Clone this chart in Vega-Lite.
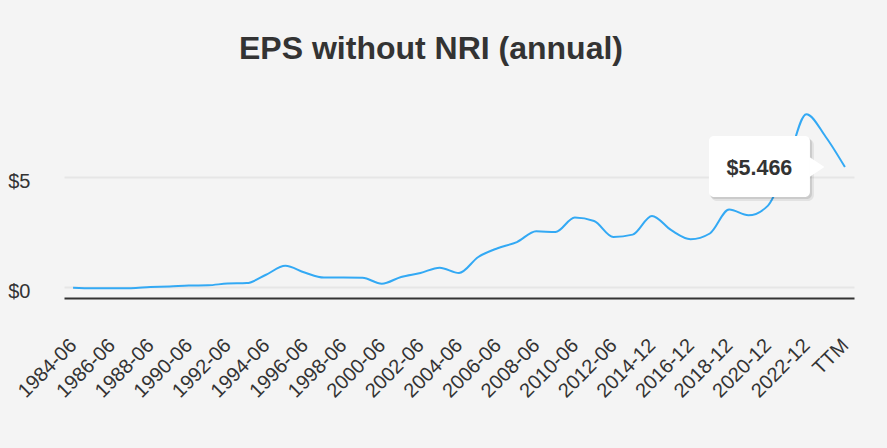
{
  "$schema": "https://vega.github.io/schema/vega-lite/v6.json",
  "width": 790,
  "height": 198,
  "autosize": {"type": "none"},
  "padding": {"left": 64, "top": 100, "right": 33, "bottom": 150},
  "background": "#f4f4f4",
  "config": {"view": {"stroke": null}, "font": "Liberation Sans"},
  "title": {"text": "EPS without NRI (annual)", "fontSize": 32, "fontWeight": "bold", "color": "#333333", "font": "Liberation Sans", "anchor": "middle", "dx": -28, "offset": 34},
  "data": {"values": [
    {"label": "1984-06", "value": -0.03},
    {"label": "1985-06", "value": -0.06},
    {"label": "1986-06", "value": -0.05},
    {"label": "1987-06", "value": -0.05},
    {"label": "1988-06", "value": 0.0},
    {"label": "1989-06", "value": 0.02},
    {"label": "1990-06", "value": 0.07},
    {"label": "1991-06", "value": 0.08},
    {"label": "1992-06", "value": 0.16},
    {"label": "1993-06", "value": 0.18},
    {"label": "1994-06", "value": 0.56},
    {"label": "1995-06", "value": 0.97},
    {"label": "1996-06", "value": 0.66},
    {"label": "1997-06", "value": 0.43},
    {"label": "1998-06", "value": 0.43},
    {"label": "1999-06", "value": 0.42},
    {"label": "2000-06", "value": 0.15},
    {"label": "2001-06", "value": 0.46},
    {"label": "2002-06", "value": 0.64},
    {"label": "2003-06", "value": 0.88},
    {"label": "2004-06", "value": 0.64},
    {"label": "2005-06", "value": 1.37},
    {"label": "2006-06", "value": 1.77},
    {"label": "2007-06", "value": 2.05},
    {"label": "2008-06", "value": 2.54},
    {"label": "2009-06", "value": 2.51},
    {"label": "2010-06", "value": 3.17},
    {"label": "2011-06", "value": 3.01},
    {"label": "2012-06", "value": 2.28},
    {"label": "2013-12", "value": 2.39},
    {"label": "2014-12", "value": 3.24},
    {"label": "2015-12", "value": 2.59},
    {"label": "2016-12", "value": 2.18},
    {"label": "2017-12", "value": 2.44},
    {"label": "2018-12", "value": 3.53},
    {"label": "2019-12", "value": 3.27},
    {"label": "2020-12", "value": 3.7},
    {"label": "2021-12", "value": 5.6},
    {"label": "2022-12", "value": 7.88},
    {"label": "2023-12", "value": 6.85},
    {"label": "TTM", "value": 5.466}
  ]},
  "encoding": {
    "x": {
      "field": "label", "type": "ordinal", "sort": null,
      "scale": {"type": "point", "padding": 0.47},
      "axis": {
        "values": ["1984-06", "1986-06", "1988-06", "1990-06", "1992-06", "1994-06", "1996-06", "1998-06", "2000-06", "2002-06", "2004-06", "2006-06", "2008-06", "2010-06", "2012-06", "2014-12", "2016-12", "2018-12", "2020-12", "2022-12", "TTM"],
        "labelAngle": -45, "labelAlign": "right", "labelBaseline": "middle",
        "labelPadding": 44, "labelFontSize": 20, "labelColor": "#333333", "labelFont": "Liberation Sans",
        "ticks": false, "grid": false, "domainColor": "#333333", "domainWidth": 2,
        "title": null, "labelOverlap": false, "labelBound": false
      }
    },
    "y": {
      "field": "value", "type": "quantitative",
      "scale": {"domain": [-0.5, 8.525], "nice": false, "zero": false},
      "axis": {
        "values": [0, 5], "labelExpr": "'$' + datum.value",
        "grid": true, "gridColor": "#e6e6e6", "gridWidth": 2,
        "domain": false, "ticks": false,
        "labelFontSize": 20, "labelColor": "#333333", "labelFont": "Liberation Sans",
        "labelPadding": 34, "labelOffset": 4, "title": null
      }
    }
  },
  "layer": [
    {"mark": {"type": "line", "interpolate": "monotone", "color": "#33a9f4", "strokeWidth": 2}},
    {"transform": [{"filter": "datum.label === 'TTM'"}],
     "mark": {"type": "rect", "color": "#000000", "opacity": 0.07, "cornerRadius": 6, "xOffset": -134, "x2Offset": -31, "yOffset": -28, "y2Offset": 34},
     "encoding": {"x2": {"field": "label"}, "y2": {"field": "value"}}},
    {"transform": [{"filter": "datum.label === 'TTM'"}],
     "mark": {"type": "rect", "color": "#000000", "opacity": 0.1, "cornerRadius": 5, "xOffset": -135, "x2Offset": -33, "yOffset": -29, "y2Offset": 32},
     "encoding": {"x2": {"field": "label"}, "y2": {"field": "value"}}},
    {"transform": [{"filter": "datum.label === 'TTM'"}],
     "mark": {"type": "rect", "color": "#ffffff", "opacity": 1, "cornerRadius": 5, "xOffset": -136, "x2Offset": -35, "yOffset": -31, "y2Offset": 30},
     "encoding": {"x2": {"field": "label"}, "y2": {"field": "value"}}},
    {"transform": [{"filter": "datum.label === 'TTM'"}],
     "mark": {"type": "point", "shape": "M-0.75,-1L0.75,0L-0.75,1Z", "filled": true, "color": "#ffffff", "opacity": 1, "size": 400, "xOffset": -28, "strokeWidth": 0}},
    {"transform": [{"filter": "datum.label === 'TTM'"}],
     "mark": {"type": "text", "text": "$5.466", "fontSize": 21.5, "fontWeight": "bold", "color": "#333333", "font": "Liberation Sans", "align": "center", "baseline": "middle", "dx": -85.5, "dy": 1.5}}
  ]
}
